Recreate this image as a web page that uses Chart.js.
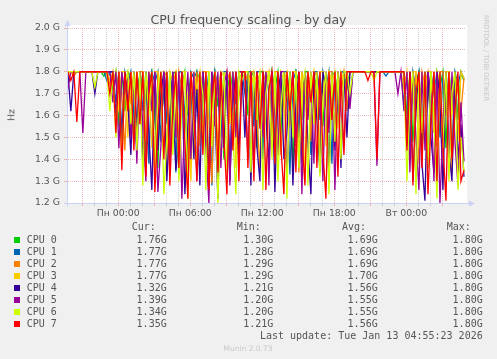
<!DOCTYPE html>
<html>
<head>
<meta charset="utf-8">
<title>CPU frequency scaling - by day</title>
<script src="https://cdn.jsdelivr.net/npm/chart.js@4.4.0/dist/chart.umd.min.js"></script>
<style>
    body { margin: 0; background: #f0f0f0; }
    #wrap { position: relative; width: 497px; height: 359px; overflow: hidden; font-family: 'DejaVu Sans', sans-serif; color: #555; }
    #wrap canvas { position: absolute; left: 0; top: 0; }
    .t { position: absolute; white-space: pre; line-height: 1.2; }
    .mono { font-family: 'DejaVu Sans Mono', monospace; font-size: 10px; }
    .sq { position: absolute; width: 6px; height: 6px; }
</style>
</head>
<body>
<div id="wrap">
    <canvas id="myChart" width="497" height="359"></canvas>
</div>
<script>
// samples every 15 min, hours relative to Пн 00:00
const startHour = -4.2;
const stepHour = 0.25;

const cpuNames = ["CPU 0", "CPU 1", "CPU 2", "CPU 3", "CPU 4", "CPU 5", "CPU 6", "CPU 7"];
const cpuColors = ["#00CC00", "#0066B3", "#FF8000", "#FFCC00", "#330099", "#990099", "#CCFF00", "#FF0000"];

const cpu0 = [
    1.8,1.8,1.8,1.8,1.8,1.8,1.8,1.8,1.8,1.8,1.8,1.8,1.78,1.8,1.8,
    1.72,1.8,1.55,1.8,1.62,1.8,1.78,1.48,1.8,1.7,
    1.8,1.42,1.75,1.8,1.58,1.36,1.8,1.67,1.8,1.5,1.79,1.8,1.33,1.72,1.8,1.6,1.8,1.45,1.8,1.76,1.52,1.8,1.3,1.74,1.8,1.64,1.8,1.4,1.8,1.7,1.8,1.55,1.8,
    1.8,1.8,1.6,1.8,
    1.78,1.45,1.8,1.8,1.62,1.38,1.8,1.72,1.8,1.5,1.8,1.66,1.8,1.35,1.8,1.75,1.58,1.8,1.8,1.43,1.8,1.7,1.8,1.55,1.8,1.32,1.78,1.8,1.64,1.8,
    1.8,1.72,1.8,1.8,1.8,
    1.8,1.8,1.8,1.8,1.8,1.8,1.8,1.8,1.8,1.8,1.8,1.8,1.8,1.8,1.8,
    1.8,1.6,1.8,1.48,1.75,1.8,1.4,1.8,1.68,1.8,1.52,1.8,1.73,1.8,1.45,1.8,1.66,1.8,1.58,1.8,1.76
];
const cpu1 = [
    1.8,1.8,1.8,1.8,1.8,1.8,1.8,1.8,1.8,1.8,1.8,1.8,1.8,1.76,1.8,
    1.8,1.66,1.8,1.5,1.8,1.74,1.8,1.6,1.45,1.8,
    1.62,1.8,1.38,1.8,1.75,1.8,1.48,1.8,1.56,1.8,1.7,1.34,1.8,1.8,1.6,1.44,1.8,1.77,1.8,1.52,1.8,1.68,1.8,1.28,1.8,1.73,1.5,1.8,1.8,1.36,1.8,1.65,1.8,
    1.8,1.7,1.8,1.8,
    1.55,1.8,1.8,1.4,1.8,1.7,1.8,1.47,1.8,1.62,1.8,1.8,1.33,1.76,1.8,1.5,1.8,1.68,1.8,1.42,1.8,1.8,1.58,1.8,1.72,1.8,1.38,1.8,1.6,1.8,
    1.8,1.8,1.66,1.8,1.8,
    1.8,1.8,1.8,1.8,1.8,1.8,1.8,1.8,1.8,1.78,1.8,1.8,1.8,1.8,1.8,
    1.65,1.8,1.45,1.8,1.72,1.8,1.55,1.8,1.36,1.8,1.7,1.8,1.5,1.8,1.62,1.8,1.42,1.8,1.74,1.8,1.77
];
const cpu2 = [
    1.8,1.8,1.78,1.8,1.8,1.8,1.8,1.8,1.8,1.8,1.8,1.8,1.8,1.8,1.74,
    1.8,1.58,1.8,1.7,1.44,1.8,1.65,1.8,1.52,1.8,
    1.8,1.48,1.8,1.7,1.32,1.8,1.62,1.8,1.78,1.4,1.8,1.55,1.8,1.72,1.8,1.35,1.8,1.64,1.8,1.46,1.8,1.8,1.58,1.29,1.8,1.7,1.8,1.44,1.8,1.76,1.52,1.8,1.68,
    1.8,1.8,1.75,1.8,
    1.8,1.6,1.36,1.8,1.75,1.8,1.5,1.8,1.8,1.42,1.7,1.8,1.56,1.8,1.8,1.34,1.8,1.66,1.8,1.48,1.8,1.78,1.4,1.8,1.64,1.8,1.8,1.46,1.8,1.7,
    1.8,1.62,1.8,1.8,1.8,
    1.8,1.8,1.8,1.8,1.8,1.8,1.8,1.8,1.8,1.8,1.8,1.8,1.8,1.8,1.8,
    1.8,1.5,1.8,1.66,1.8,1.38,1.8,1.74,1.8,1.56,1.8,1.46,1.8,1.8,1.6,1.8,1.34,1.8,1.7,1.62,1.77
];
const cpu3 = [
    1.8,1.8,1.8,1.8,1.8,1.8,1.8,1.8,1.8,1.8,1.8,1.8,1.8,1.8,1.76,
    1.74,1.8,1.62,1.8,1.8,1.5,1.8,1.7,1.8,1.56,
    1.8,1.68,1.8,1.45,1.8,1.8,1.6,1.8,1.38,1.8,1.75,1.8,1.52,1.8,1.8,1.66,1.3,1.8,1.72,1.8,1.5,1.8,1.8,1.62,1.8,1.42,1.8,1.78,1.8,1.56,1.8,1.36,1.8,
    1.8,1.8,1.8,1.72,
    1.8,1.74,1.8,1.52,1.8,1.8,1.64,1.8,1.4,1.8,1.76,1.8,1.55,1.8,1.8,1.68,1.8,1.3,1.8,1.72,1.8,1.58,1.8,1.8,1.46,1.8,1.75,1.8,1.54,1.8,
    1.76,1.8,1.8,1.8,1.8,
    1.8,1.8,1.8,1.8,1.8,1.8,1.8,1.8,1.8,1.8,1.8,1.8,1.8,1.8,1.8,
    1.72,1.8,1.58,1.8,1.8,1.45,1.8,1.68,1.8,1.8,1.52,1.8,1.75,1.4,1.8,1.8,1.6,1.8,1.48,1.8,1.77
];
const cpu4 = [
    1.8,1.62,1.8,1.8,1.8,1.8,1.8,1.8,1.8,1.7,1.8,1.8,1.8,1.8,1.8,
    1.8,1.6,1.8,1.48,1.8,1.66,1.42,1.8,1.55,1.8,
    1.38,1.8,1.52,1.26,1.8,1.44,1.7,1.8,1.3,1.6,1.8,1.35,1.48,1.8,1.24,1.56,1.8,1.4,1.72,1.28,1.8,1.5,1.36,1.8,1.62,1.22,1.8,1.45,1.8,1.3,1.66,1.8,1.42,
    1.8,1.5,1.8,1.28,
    1.8,1.46,1.3,1.8,1.6,1.36,1.8,1.25,1.7,1.8,1.4,1.52,1.8,1.28,1.64,1.8,1.38,1.8,1.46,1.24,1.8,1.58,1.34,1.8,1.72,1.3,1.8,1.44,1.8,1.36,
    1.8,1.5,1.8,1.8,1.8,
    1.8,1.8,1.8,1.8,1.8,1.8,1.8,1.8,1.8,1.8,1.8,1.8,1.8,1.8,1.8,
    1.8,1.46,1.8,1.3,1.62,1.8,1.38,1.21,1.8,1.5,1.34,1.8,1.68,1.26,1.8,1.44,1.3,1.8,1.4,1.56,1.32
];
const cpu5 = [
    1.72,1.8,1.8,1.8,1.8,1.52,1.8,1.8,1.8,1.8,1.8,1.8,1.8,1.8,1.8,
    1.66,1.8,1.45,1.8,1.7,1.8,1.5,1.8,1.38,1.8,
    1.55,1.3,1.8,1.62,1.8,1.25,1.46,1.8,1.7,1.34,1.8,1.5,1.8,1.22,1.6,1.8,1.4,1.8,1.3,1.66,1.8,1.45,1.2,1.8,1.55,1.8,1.36,1.74,1.8,1.28,1.8,1.5,1.8,
    1.8,1.8,1.4,1.8,
    1.36,1.8,1.7,1.5,1.8,1.28,1.8,1.6,1.42,1.8,1.8,1.32,1.66,1.8,1.46,1.8,1.24,1.8,1.58,1.8,1.38,1.8,1.7,1.3,1.8,1.52,1.8,1.26,1.8,1.62,
    1.46,1.8,1.63,1.8,1.8,
    1.8,1.8,1.8,1.8,1.8,1.8,1.37,1.8,1.8,1.8,1.8,1.8,1.8,1.7,1.8,
    1.62,1.8,1.34,1.8,1.5,1.26,1.8,1.44,1.8,1.7,1.3,1.8,1.2,1.56,1.8,1.36,1.8,1.48,1.28,1.66,1.39
];
const cpu6 = [
    1.8,1.8,1.8,1.8,1.8,1.8,1.8,1.8,1.8,1.73,1.8,1.8,1.8,1.8,1.62,
    1.8,1.5,1.8,1.38,1.74,1.8,1.56,1.8,1.44,1.8,
    1.28,1.8,1.6,1.8,1.35,1.72,1.8,1.24,1.5,1.8,1.42,1.8,1.3,1.66,1.8,1.22,1.8,1.54,1.36,1.8,1.7,1.26,1.8,1.46,1.8,1.2,1.62,1.8,1.34,1.8,1.5,1.24,1.8,
    1.76,1.8,1.8,1.34,
    1.8,1.58,1.8,1.26,1.7,1.8,1.4,1.8,1.3,1.64,1.8,1.22,1.8,1.5,1.8,1.36,1.74,1.8,1.28,1.8,1.56,1.8,1.32,1.68,1.8,1.24,1.8,1.48,1.8,1.4,
    1.8,1.8,1.7,1.8,1.8,
    1.8,1.8,1.8,1.8,1.8,1.76,1.8,1.8,1.8,1.8,1.8,1.8,1.8,1.8,1.8,
    1.8,1.3,1.68,1.8,1.24,1.8,1.52,1.8,1.36,1.8,1.6,1.22,1.8,1.45,1.8,1.3,1.7,1.8,1.26,1.5,1.34
];
const cpu7 = [
    1.8,1.76,1.8,1.57,1.8,1.8,1.8,1.8,1.8,1.8,1.8,1.8,1.8,1.8,1.7,
    1.8,1.52,1.8,1.35,1.8,1.62,1.8,1.44,1.8,1.56,
    1.8,1.32,1.7,1.8,1.25,1.56,1.8,1.4,1.8,1.28,1.64,1.8,1.36,1.8,1.48,1.22,1.8,1.6,1.3,1.8,1.42,1.8,1.26,1.68,1.8,1.34,1.8,1.5,1.24,1.8,1.44,1.8,1.3,
    1.8,1.8,1.36,1.8,
    1.3,1.8,1.54,1.8,1.26,1.72,1.8,1.38,1.8,1.46,1.24,1.8,1.62,1.8,1.34,1.8,1.5,1.28,1.8,1.66,1.8,1.36,1.8,1.44,1.22,1.8,1.58,1.8,1.32,1.8,
    1.42,1.8,1.8,1.8,1.8,
    1.8,1.8,1.8,1.76,1.8,1.8,1.4,1.8,1.8,1.8,1.8,1.8,1.8,1.8,1.8,
    1.8,1.44,1.8,1.28,1.7,1.8,1.36,1.8,1.24,1.56,1.8,1.3,1.8,1.46,1.21,1.8,1.4,1.62,1.8,1.3,1.35
];
const cpuSeries = [cpu0, cpu1, cpu2, cpu3, cpu4, cpu5, cpu6, cpu7];

// legend table
const curVals = [1.76, 1.77, 1.77, 1.77, 1.32, 1.39, 1.34, 1.35];
const minVals = [1.30, 1.28, 1.29, 1.29, 1.21, 1.20, 1.20, 1.21];
const avgVals = [1.69, 1.69, 1.69, 1.70, 1.56, 1.55, 1.55, 1.56];
const maxVals = [1.80, 1.80, 1.80, 1.80, 1.80, 1.80, 1.80, 1.80];

// x axis labels
const xTickHours = [0, 6, 12, 18, 24];
const xTickLabels = ["Пн 00:00", "Пн 06:00", "Пн 12:00", "Пн 18:00", "Вт 00:00"];
const yTicks = { min: 1.2, max: 2.0, step: 0.1 };

const wrap = document.getElementById("wrap");

function addText(str, x, y, opts) {
    const el = document.createElement("div");
    el.className = "t" + (opts.mono ? " mono" : "");
    el.textContent = str;
    if (opts.size) el.style.fontSize = opts.size + "px";
    if (opts.color) el.style.color = opts.color;
    el.style.top = y + "px";
    let tf = "translateY(-50%)";
    if (opts.align === "right") {
        el.style.right = (497 - x) + "px";
    } else if (opts.align === "center") {
        el.style.left = x + "px";
        tf = "translate(-50%,-50%)";
    } else {
        el.style.left = x + "px";
    }
    if (opts.rotate) tf += " rotate(" + opts.rotate + "deg)";
    el.style.transform = tf;
    wrap.appendChild(el);
}

addText("CPU frequency scaling - by day", 248.5, 19.5, { align: "center", size: 12.6 });
addText("Hz", 11, 115, { align: "center", size: 9.33, rotate: -90 });
addText("RRDTOOL / TOBI OETIKER", 485.5, 57.5, { align: "center", size: 6.7, color: "#c4c4c4", rotate: 90 });
addText("Munin 2.0.73", 248, 348, { align: "center", size: 7.5, color: "#c8c8c8" });

addText("Cur:", 131.7, 227.3, { mono: true });
addText("Min:", 236.7, 227.3, { mono: true });
addText("Avg:", 342, 227.3, { mono: true });
addText("Max:", 446.7, 227.3, { mono: true });

cpuNames.forEach((name, i) => {
    const y = 239.8 + i * 12;
    const sq = document.createElement("div");
    sq.className = "sq";
    sq.style.left = "14px";
    sq.style.top = (y - 3) + "px";
    sq.style.background = cpuColors[i];
    wrap.appendChild(sq);
    addText(name, 26.7, y, { mono: true });
    addText(curVals[i].toFixed(2) + "G", 166.7, y, { mono: true, align: "right" });
    addText(minVals[i].toFixed(2) + "G", 273.3, y, { mono: true, align: "right" });
    addText(avgVals[i].toFixed(2) + "G", 377.7, y, { mono: true, align: "right" });
    addText(maxVals[i].toFixed(2) + "G", 482.7, y, { mono: true, align: "right" });
});
addText("Last update: Tue Jan 13 04:55:23 2026", 482.7, 335.7, { mono: true, align: "right" });

const isWhole = v => Math.abs(v - Math.round(v)) < 1e-6;
const majorGrid = "rgba(220,100,100,0.45)";
const minorGrid = "rgba(140,140,140,0.4)";
const axisColor = "#cbd2f6";

// white canvas behind plot + rrdtool style axis arrows
const rrdFrame = {
    id: "rrdFrame",
    beforeDraw(chart) {
        const { ctx, chartArea: a } = chart;
        ctx.save();
        ctx.fillStyle = "#ffffff";
        ctx.fillRect(a.left, a.top - 3, a.right - a.left + 1, a.bottom - a.top + 3);
        ctx.restore();
    },
    afterDraw(chart) {
        const { ctx, chartArea: a } = chart;
        const l = Math.round(a.left) + 0.5, b = Math.round(a.bottom) + 0.5;
        ctx.save();
        ctx.strokeStyle = axisColor;
        ctx.fillStyle = axisColor;
        ctx.lineWidth = 1;
        ctx.beginPath();
        ctx.moveTo(l, b + 3); ctx.lineTo(l, a.top - 2);
        ctx.moveTo(l - 3, b); ctx.lineTo(a.right + 3, b);
        ctx.stroke();
        ctx.beginPath();
        ctx.moveTo(l, a.top - 8); ctx.lineTo(l - 3, a.top - 2); ctx.lineTo(l + 3, a.top - 2);
        ctx.closePath(); ctx.fill();
        ctx.beginPath();
        ctx.moveTo(a.right + 9, b); ctx.lineTo(a.right + 3, b - 3); ctx.lineTo(a.right + 3, b + 3);
        ctx.closePath(); ctx.fill();
        ctx.restore();
    }
};

const datasets = cpuSeries.map((vals, k) => ({
    label: cpuNames[k],
    data: vals.map((v, i) => ({ x: startHour + i * stepHour, y: v })),
    borderColor: cpuColors[k],
    backgroundColor: cpuColors[k],
    borderWidth: 1.3,
    pointRadius: 0,
    tension: 0,
    fill: false,
    order: 7 - k
}));

const ctx = document.getElementById("myChart").getContext("2d");
const myChart = new Chart(ctx, {
    type: "line",
    data: { datasets: datasets },
    plugins: [rrdFrame],
    options: {
        responsive: false,
        animation: false,
        events: [],
        layout: { padding: { top: 28, right: 31, left: 0, bottom: 0 } },
        plugins: { legend: { display: false }, tooltip: { enabled: false }, title: { display: false } },
        scales: {
            x: {
                type: "linear",
                min: -4.27,
                max: 28.97,
                afterFit: s => { s.height = 156; },
                ticks: {
                    stepSize: 1,
                    autoSkip: false,
                    maxRotation: 0,
                    padding: 2,
                    color: "#555",
                    font: { family: "DejaVu Sans", size: 9.33 },
                    callback: v => {
                        const k = xTickHours.findIndex(h => Math.abs(h - v) < 1e-6);
                        return k >= 0 ? xTickLabels[k] : "";
                    }
                },
                grid: {
                    color: c => {
                        const v = c.tick ? c.tick.value : NaN;
                        if (!isWhole(v)) return "rgba(0,0,0,0)";
                        return Math.round(v) % 3 === 0 ? majorGrid : minorGrid;
                    },
                    tickLength: 3,
                    lineWidth: 1
                },
                border: { color: axisColor, dash: [1, 1] }
            },
            y: {
                min: yTicks.min,
                max: yTicks.max,
                afterFit: s => { s.width = 67; },
                ticks: {
                    stepSize: yTicks.step,
                    padding: 4,
                    color: "#555",
                    font: { family: "DejaVu Sans", size: 9.33 },
                    callback: v => v.toFixed(1) + " G"
                },
                grid: { color: majorGrid, tickLength: 3, lineWidth: 1 },
                border: { color: axisColor, dash: [1, 1] }
            }
        }
    }
});
</script>
</body>
</html>
